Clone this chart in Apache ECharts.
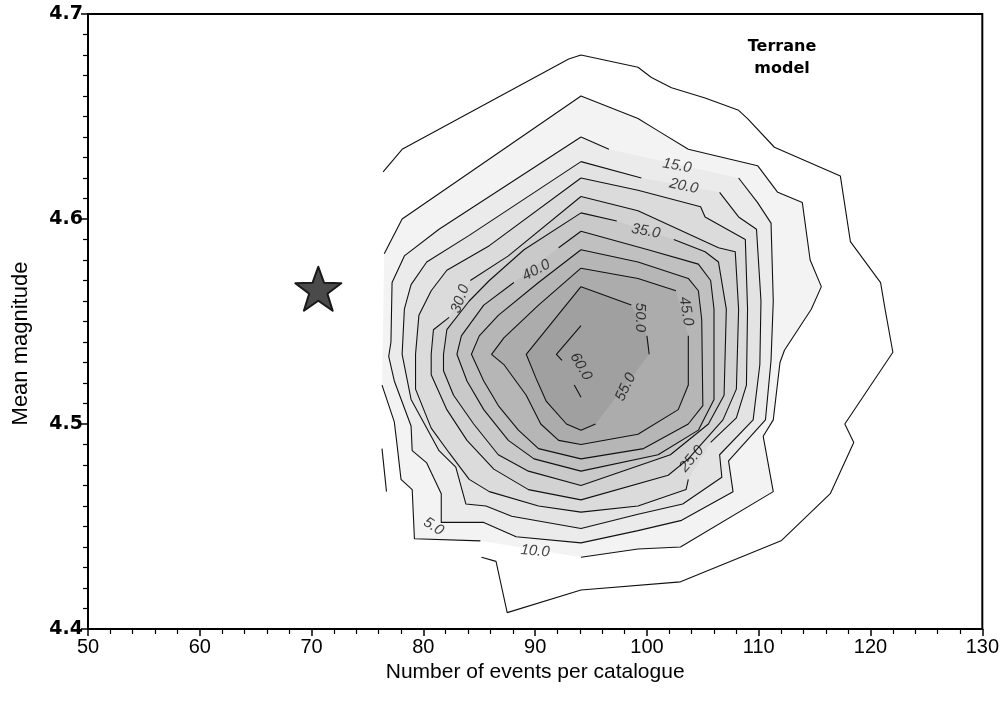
<!DOCTYPE html>
<html><head><meta charset="utf-8">
<script src="https://cdn.jsdelivr.net/npm/echarts/dist/echarts.min.js"></script>
<style>html,body{margin:0;padding:0;background:#fff}#c{width:1002px;height:713px}</style>
</head><body><div id="c"></div>
<script>
// Axis ranges / ticks
const xRange = [50, 130], xStep = 10;
const yRange = [4.4, 4.7], yStep = 0.1;

// Contour polylines (data units), each level: list of pieces (gaps = label breaks)
const c5 = [
 [[76.4,4.623],[78.1,4.634],[93.0,4.678],[94.1,4.680],[99.2,4.674],[100.4,4.669],[102.2,4.664],[105.2,4.659],[108.2,4.653],[109.0,4.649],[111.4,4.635],[117.3,4.621],[118.2,4.589],[120.9,4.569],[121.3,4.556],[122.0,4.535],[117.7,4.500],[118.5,4.491],[116.4,4.466],[112.0,4.443],[103.0,4.423],[94.1,4.419],[87.5,4.408],[86.5,4.433],[85.2,4.435]],
 [[76.7,4.467],[76.3,4.488]]
];
const c10 = [
 [[76.5,4.583],[78.1,4.600],[94.1,4.660],[99.2,4.649],[101.0,4.643],[103.7,4.634],[109.9,4.626],[111.7,4.613],[113.9,4.608],[114.6,4.580],[115.6,4.567],[114.7,4.556],[112.3,4.536],[111.9,4.530],[111.3,4.502],[110.4,4.494],[111.3,4.467],[103.0,4.440],[99.2,4.439],[94.1,4.435]],
 [[85.1,4.443],[79.2,4.444],[79.0,4.468],[78.0,4.473],[77.6,4.492],[77.4,4.501],[76.3,4.519]]
];
const c15 = [
 [[94.1,4.640],[96.6,4.634]],
 [[108.2,4.620],[109.9,4.608],[111.1,4.598],[111.3,4.560],[111.1,4.531],[110.6,4.502],[107.3,4.482],[107.7,4.467],[103.1,4.453],[99.2,4.448],[94.1,4.442],[88.3,4.445],[85.4,4.452],[81.6,4.452],[81.6,4.466],[80.3,4.481],[79.0,4.487],[78.9,4.499],[77.4,4.521],[76.9,4.533],[77.1,4.540],[77.2,4.569],[78.3,4.582],[81.4,4.595],[94.1,4.640]]
];
const c20 = [
 [[94.1,4.628],[99.5,4.620]],
 [[106.5,4.613],[108.2,4.601],[109.8,4.595],[110.2,4.560],[110.1,4.529],[109.5,4.502],[106.5,4.485],[106.7,4.474],[103.2,4.461],[99.2,4.456],[94.1,4.449],[87.9,4.455],[85.6,4.460],[83.8,4.461],[82.9,4.479],[81.4,4.487],[80.1,4.500],[78.9,4.512],[78.1,4.534],[78.3,4.556],[78.9,4.568],[80.3,4.579],[84.1,4.592],[94.1,4.628]]
];
const c25 = [
 [[94.1,4.620],[99.2,4.614],[104.8,4.606],[105.2,4.601],[108.8,4.590],[109.0,4.556],[108.9,4.519],[108.0,4.503],[105.7,4.491]],
 [[103.7,4.473],[103.5,4.468],[99.2,4.460],[94.1,4.457],[90.3,4.460],[85.9,4.467],[84.1,4.473],[82.3,4.486],[80.7,4.498],[79.3,4.517],[79.3,4.534],[79.6,4.553],[80.7,4.565],[82.1,4.575],[85.9,4.587],[94.1,4.620]]
];
const c30 = [
 [[94.1,4.611],[99.2,4.604],[106.4,4.586],[107.9,4.584],[108.2,4.556],[108.0,4.517],[106.8,4.502],[103.7,4.483],[101.9,4.475],[94.1,4.463],[89.4,4.468],[86.3,4.478],[83.9,4.492],[82.1,4.507],[80.7,4.524],[80.7,4.534],[80.9,4.546],[82.3,4.552]],
 [[84.2,4.570],[87.6,4.582],[94.1,4.611]]
];
const c35 = [
 [[94.1,4.603],[97.3,4.599]],
 [[102.4,4.590],[105.2,4.584],[106.4,4.579],[107.1,4.556],[106.9,4.514],[105.5,4.500],[102.1,4.485],[94.1,4.470],[89.4,4.477],[86.7,4.485],[84.5,4.500],[82.7,4.514],[81.8,4.526],[81.8,4.534],[82.1,4.546],[84.1,4.560],[85.9,4.570],[89.0,4.585],[94.1,4.603]]
];
const c40 = [
 [[94.1,4.594],[100.1,4.585],[104.6,4.578],[105.7,4.570],[106.0,4.556],[106.0,4.512],[104.6,4.497],[101.0,4.485],[94.1,4.477],[89.9,4.483],[87.6,4.492],[85.4,4.507],[83.9,4.521],[83.0,4.534],[83.4,4.543],[85.4,4.558],[88.1,4.569]],
 [[92.1,4.586],[94.1,4.594]]
];
const c45 = [
 [[94.1,4.585],[99.2,4.579],[103.7,4.571],[104.6,4.565],[104.9,4.551],[105.0,4.509],[103.7,4.500],[99.7,4.488],[94.1,4.483],[90.3,4.488],[88.5,4.497],[86.7,4.509],[85.4,4.521],[84.3,4.534],[85.0,4.543],[86.7,4.553],[90.3,4.569],[94.1,4.585]]
];
const c50 = [
 [[94.1,4.576],[99.2,4.571],[102.6,4.565]],
 [[103.7,4.543],[103.7,4.519],[102.8,4.507],[99.2,4.495],[94.1,4.490],[92.1,4.492],[90.5,4.500],[89.2,4.514],[87.2,4.529],[86.1,4.534],[87.2,4.542],[90.3,4.558],[94.1,4.576]]
];
const c55 = [
 [[94.1,4.567],[98.6,4.558]],
 [[100.0,4.543],[100.2,4.534]],
 [[95.4,4.500],[94.1,4.497],[92.8,4.500],[91.0,4.511],[90.1,4.522],[89.2,4.534],[94.1,4.567]]
];
const c60 = [
 [[94.1,4.548],[91.9,4.534],[92.4,4.531]],
 [[93.5,4.519],[94.1,4.513]]
];

// Contour labels: x, y, text, angle
const contourLabels = [
 [80.9,4.450,'5.0',-32],
 [90.0,4.438,'10.0',-5],
 [102.7,4.626,'15.0',-10],
 [103.3,4.616,'20.0',-12],
 [104.0,4.483,'25.0',50],
 [83.3,4.561,'30.0',70],
 [99.9,4.594,'35.0',-10],
 [90.1,4.575,'40.0',28],
 [103.5,4.555,'45.0',-80],
 [99.4,4.552,'50.0',-90],
 [98.1,4.518,'55.0',65],
 [94.1,4.528,'60.0',-60]
];

// Observed catalogue (star)
const observed = [[70.6, 4.566]];

const allLevels = [c5,c10,c15,c20,c25,c30,c35,c40,c45,c50,c55,c60];
const fillRings = [c10,c15,c20,c25,c30,c35,c40,c45,c50,c55];
const fillColors = ['#f3f3f3','#ebebeb','#e3e3e3','#dbdbdb','#d2d2d2','#c9c9c9','#c0c0c0','#b6b6b6','#acacac','#a0a0a0'];

const series = [];
series.push({
  type:'custom', coordinateSystem:'cartesian2d', silent:true, z:1, clip:true,
  data: fillRings.map(()=>[94, 4.53]),
  renderItem(params, api){
    const ring = fillRings[params.dataIndex];
    const pts = [];
    ring.forEach(piece=>piece.forEach(p=>pts.push(api.coord(p))));
    return {type:'polygon', shape:{points:pts}, style:{fill:fillColors[params.dataIndex], stroke:null}};
  }
});
allLevels.forEach(lv=>lv.forEach(piece=>{
  series.push({type:'line', data:piece, symbol:'none', silent:true, z:3,
    lineStyle:{color:'#111', width:1.1}});
}));
series.push({
  type:'scatter', symbolSize:0, silent:true, z:5,
  data: contourLabels.map(l=>({value:[l[0],l[1]], label:{show:true, formatter:l[2], rotate:l[3]}})),
  label:{position:'inside', color:'#111', fontSize:15, fontStyle:'italic', fontFamily:'Liberation Sans, Arial, sans-serif'}
});
series.push({
  type:'scatter', z:6, silent:true, data:observed,
  symbol:'path://M50,2 L62,36 L98,37 L69,59 L80,95 L50,74 L20,95 L31,59 L2,37 L38,36 Z',
  symbolSize:[46,44],
  itemStyle:{color:'#4a4a4a', borderColor:'#1a1a1a', borderWidth:2, borderJoin:'round', opacity:1}
});

const chart = echarts.init(document.getElementById('c'), null, {renderer:'canvas'});
chart.setOption({
  animation:false,
  backgroundColor:'#fff',
  grid:{left:88, top:14, right:17, bottom:84, show:true, borderColor:'#000', borderWidth:2, backgroundColor:'transparent'},
  graphic:[{type:'text', x:782, y:36, z:10,
    style:{text:'Terrane\nmodel', font:'bold 16px "DejaVu Sans", Verdana, sans-serif', fill:'#000', align:'center', verticalAlign:'top', lineHeight:22}}],
  xAxis:{type:'value', min:xRange[0], max:xRange[1], interval:xStep,
    name:'Number of events per catalogue', nameLocation:'middle', nameGap:28,
    nameTextStyle:{fontSize:21, color:'#000', fontFamily:'Liberation Sans, Arial, sans-serif', verticalAlign:'top'},
    axisLine:{show:true, onZero:false, lineStyle:{color:'#000', width:2}},
    axisTick:{show:true, length:7, lineStyle:{color:'#000', width:1.5}},
    minorTick:{show:true, splitNumber:5, length:5, lineStyle:{color:'#000', width:1.2}},
    splitLine:{show:false},
    axisLabel:{fontSize:20, color:'#000', margin:8, fontFamily:'Liberation Sans, Arial, sans-serif'}},
  yAxis:{type:'value', min:yRange[0], max:yRange[1], interval:yStep,
    name:'Mean magnitude', nameLocation:'middle', nameGap:56,
    nameTextStyle:{fontSize:22, color:'#000', fontFamily:'Liberation Sans, Arial, sans-serif', padding:[0,44,0,0]},
    axisLine:{show:true, onZero:false, lineStyle:{color:'#000', width:2}},
    axisTick:{show:true, length:7, lineStyle:{color:'#000', width:1.5}},
    minorTick:{show:true, splitNumber:10, length:5, lineStyle:{color:'#000', width:1.2}},
    splitLine:{show:false},
    axisLabel:{fontSize:19, fontWeight:'bold', color:'#000', margin:5, fontFamily:'DejaVu Sans, sans-serif',
      formatter:v=>v.toFixed(1)}},
  series
});
</script></body></html>
